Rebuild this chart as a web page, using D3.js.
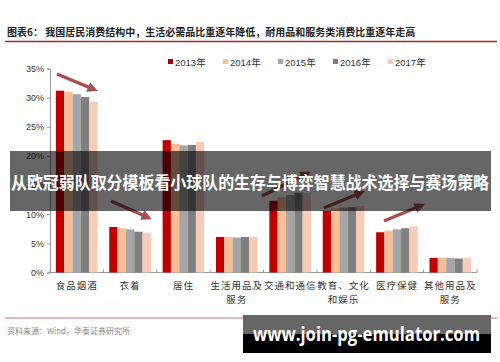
<!DOCTYPE html>
<html><head><meta charset="utf-8">
<script src="https://cdn.jsdelivr.net/npm/d3@7"></script>
<style>body{margin:0;background:#fff}svg{display:block}</style>
</head><body><svg width="500" height="362"></svg>
<script>
// data
var categories = ['食品烟酒','衣着','居住','生活用品及|服务','交通和通信','教育、文化|和娱乐','医疗保健','其他用品及|服务'];
var years = ['2013年','2014年','2015年','2016年','2017年'];
var v2013 = [31.2, 7.8, 22.7, 6.1, 12.3, 10.6, 6.9, 2.5];
var v2014 = [31.0, 7.6, 22.1, 6.1, 12.9, 11.0, 7.2, 2.5];
var v2015 = [30.6, 7.4, 21.8, 6.0, 13.3, 11.1, 7.4, 2.5];
var v2016 = [30.1, 7.0, 21.9, 6.1, 13.7, 11.2, 7.6, 2.4];
var v2017 = [29.3, 6.8, 22.4, 6.1, 13.6, 11.4, 7.9, 2.5];
var yTicks = [0, 5, 10, 15, 20, 25, 30, 35];
var colors = ['#c00000', '#f8bf94', '#a5a5a5', '#7f7f7f', '#f6cbb8'];
var series = [v2013, v2014, v2015, v2016, v2017];

var svg = d3.select('svg');

// title
svg.append('text').attr('x', 7).attr('y', 36)
  .style('font-family', '"Noto Sans CJK SC"').style('font-size', '10px').style('font-weight', 'bold')
  .style('fill', '#222')
  .text('图表6：  我国居民消费结构中，生活必需品比重逐年降低，耐用品和服务类消费比重逐年走高');
svg.append('line').attr('x1', 5).attr('x2', 497).attr('y1', 41.5).attr('y2', 41.5)
  .style('stroke', '#a52a2a').style('stroke-width', 1.3);

var x0 = d3.scaleBand().domain(categories).range([50, 477]).paddingInner(0.22).paddingOuter(0.11);
var x1 = d3.scaleBand().domain(years).range([0, x0.bandwidth()]);
var y = d3.scaleLinear().domain([0, 35]).range([272.5, 68.5]);

// y axis
var ya = svg.append('g').attr('transform', 'translate(50,0)')
  .call(d3.axisLeft(y).tickValues(yTicks).tickSize(3).tickFormat(d => d + '%'));
ya.select('.domain').style('stroke', '#999');
ya.selectAll('line').style('stroke', '#999');
ya.selectAll('text').style('font-family', 'Arial, "Liberation Sans"').style('font-size', '9px').style('fill', '#333');

// x axis
var step = (477 - 50) / categories.length;
var xa = svg.append('g').attr('transform', 'translate(0,272.5)');
xa.append('line').attr('x1', 50).attr('x2', 477).style('stroke', '#999');
d3.range(categories.length + 1).forEach(function(i) {
  xa.append('line').attr('x1', 50 + i * step).attr('x2', 50 + i * step).attr('y1', 0).attr('y2', -3).style('stroke', '#999');
});

// bars
series.forEach(function(vals, si) {
  svg.append('g').selectAll('rect').data(vals).join('rect')
    .attr('x', (d, i) => x0(categories[i]) + x1(years[si]))
    .attr('y', d => y(d))
    .attr('width', x1.bandwidth())
    .attr('height', d => y(0) - y(d))
    .style('fill', colors[si]);
});

// category labels
categories.forEach(function(c) {
  var lines = c.split('|');
  var cx = x0(c) + x0.bandwidth() / 2;
  lines.forEach(function(l, li) {
    svg.append('text').attr('x', cx).attr('y', 289 + li * 14).attr('text-anchor', 'middle')
      .style('font-family', '"Noto Sans CJK SC"').style('font-size', '9.5px').style('fill', '#333')
      .style('letter-spacing', '1px').text(l);
  });
});

// legend
years.forEach(function(yr, i) {
  var lx = 168 + i * 55;
  svg.append('rect').attr('x', lx).attr('y', 59).attr('width', 5).attr('height', 5).style('fill', i == 0 ? '#a00000' : colors[i]);
  svg.append('text').attr('x', lx + 7).attr('y', 65.5)
    .style('font-family', 'Arial, "Noto Sans CJK SC"').style('font-size', '9.5px').style('fill', '#333').text(yr);
});

// trend arrows
svg.append('defs').append('marker').attr('id', 'ah').attr('viewBox', '0 0 10 10')
  .attr('refX', 5).attr('refY', 5).attr('markerWidth', 3).attr('markerHeight', 3).attr('orient', 'auto')
  .append('path').attr('d', 'M0,0L10,5L0,10z').style('fill', '#a03c3c');
var arrows = [[57, 74, 93, 89], [111, 201, 147, 217], [262, 196, 306, 174], [324, 208, 360, 193], [384, 221, 420, 206]];
arrows.forEach(function(a) {
  svg.append('line').attr('x1', a[0]).attr('y1', a[1]).attr('x2', a[2]).attr('y2', a[3])
    .style('stroke', '#a03c3c').style('stroke-width', 3.5).style('opacity', 0.9).attr('marker-end', 'url(#ah)');
});

// footer
svg.append('line').attr('x1', 5).attr('x2', 497).attr('y1', 318).attr('y2', 318)
  .style('stroke', '#c87070').style('stroke-width', 1);
svg.append('text').attr('x', 7).attr('y', 334)
  .style('font-family', '"Noto Sans CJK SC"').style('font-size', '8px').style('fill', '#888')
  .text('资料来源：Wind，华泰证券研究所');

// overlay banner
svg.append('rect').attr('x', 10).attr('y', 151).attr('width', 481).attr('height', 60)
  .style('fill', 'rgba(0,0,0,0.6)');
svg.append('text').attr('x', 250).attr('y', 189).attr('text-anchor', 'middle')
  .attr('textLength', 478).attr('lengthAdjust', 'spacingAndGlyphs')
  .style('font-family', '"Noto Sans CJK SC"').style('font-size', '17.5px').style('font-weight', 'bold')
  .style('fill', '#fff').text('从欧冠弱队取分模板看小球队的生存与博弈智慧战术选择与赛场策略');

// watermark
svg.append('rect').attr('x', 243).attr('y', 315).attr('width', 248).attr('height', 19).style('fill', '#666');
svg.append('rect').attr('x', 243).attr('y', 334).attr('width', 248).attr('height', 19).style('fill', '#000');
svg.append('text').attr('x', 253).attr('y', 341)
  .attr('textLength', 227).attr('lengthAdjust', 'spacingAndGlyphs')
  .style('font-family', '"Open Sans", "DejaVu Sans"').style('font-size', '20px').style('font-weight', 'bold')
  .style('fill', '#fff').text('www.join-pg-emulator.com');
</script>
</body></html>
